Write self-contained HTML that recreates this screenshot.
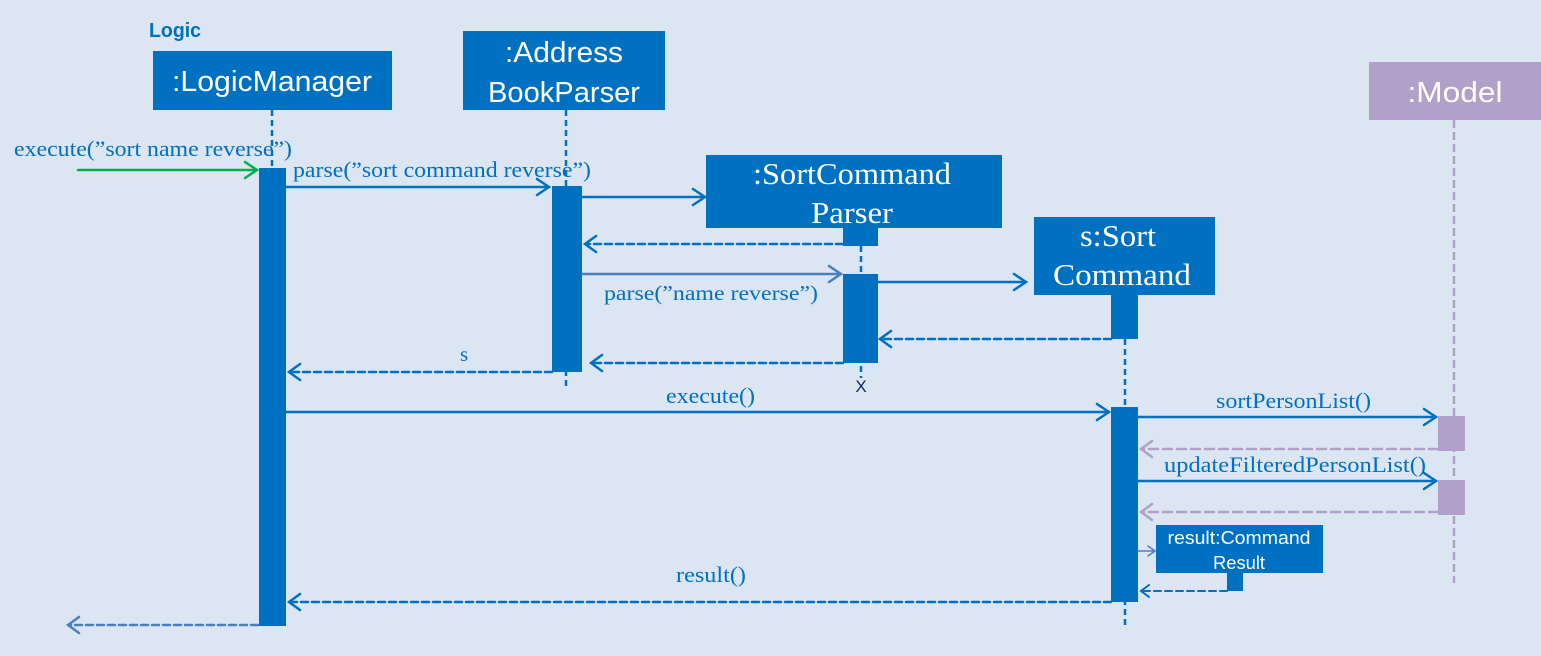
<!DOCTYPE html>
<html><head><meta charset="utf-8"><style>
html,body{margin:0;padding:0;background:#dce6f2;}
svg{display:block}
.s{font-family:"Liberation Sans",sans-serif;fill:#fff}
.r{font-family:"Liberation Serif",serif;fill:#0070c0}
</style></head><body>
<svg width="1541" height="656" viewBox="0 0 1541 656" xmlns="http://www.w3.org/2000/svg">
<rect width="1541" height="656" fill="#dce6f2"/>
<g fill="none" stroke-width="2.5">
<line x1="272" y1="110" x2="272" y2="168" stroke="#0070c0" stroke-dasharray="6,4"/>
<line x1="566" y1="110" x2="566" y2="390" stroke="#0070c0" stroke-dasharray="6,4"/>
<line x1="861" y1="246" x2="861" y2="378" stroke="#0070c0" stroke-dasharray="6,4"/>
<line x1="1125" y1="339" x2="1125" y2="625" stroke="#0070c0" stroke-dasharray="6,4"/>
<line x1="1454" y1="120" x2="1454" y2="583" stroke="#b1a0c7" stroke-dasharray="8,4"/>
</g>
<rect x="153" y="51" width="239" height="59" fill="#0070c0"/>
<text class="s" x="272" y="91" font-size="29" text-anchor="middle" textLength="200" lengthAdjust="spacingAndGlyphs">:LogicManager</text>
<rect x="463" y="31" width="202" height="79" fill="#0070c0"/>
<text class="s" x="564" y="62" font-size="29" text-anchor="middle" textLength="118" lengthAdjust="spacingAndGlyphs">:Address</text>
<text class="s" x="564" y="102" font-size="29" text-anchor="middle" textLength="152" lengthAdjust="spacingAndGlyphs">BookParser</text>
<rect x="706" y="155" width="296" height="73" fill="#0070c0"/>
<text class="s" style="font-family:'Liberation Serif',serif" x="852" y="184" font-size="31" text-anchor="middle" textLength="198" lengthAdjust="spacingAndGlyphs">:SortCommand</text>
<text class="s" style="font-family:'Liberation Serif',serif" x="852" y="223" font-size="31" text-anchor="middle" textLength="82" lengthAdjust="spacingAndGlyphs">Parser</text>
<rect x="843" y="226" width="35" height="20" fill="#0070c0"/>
<rect x="1034" y="217" width="181" height="78" fill="#0070c0"/>
<text class="s" style="font-family:'Liberation Serif',serif" x="1118" y="246" font-size="31" text-anchor="middle" textLength="76" lengthAdjust="spacingAndGlyphs">s:Sort</text>
<text class="s" style="font-family:'Liberation Serif',serif" x="1122" y="285" font-size="31" text-anchor="middle" textLength="138" lengthAdjust="spacingAndGlyphs">Command</text>
<rect x="1111" y="293" width="27" height="46" fill="#0070c0"/>
<rect x="1369" y="62" width="172" height="58" fill="#b1a0c7"/>
<text class="s" x="1455" y="102" font-size="29" text-anchor="middle" textLength="95" lengthAdjust="spacingAndGlyphs">:Model</text>
<text x="149" y="37" font-family="Liberation Sans,sans-serif" font-weight="bold" font-size="20" fill="#0070c0" textLength="52" lengthAdjust="spacingAndGlyphs">Logic</text>
<rect x="259" y="168" width="27" height="458" fill="#0070c0"/>
<rect x="552" y="186" width="30" height="186" fill="#0070c0"/>
<rect x="843" y="274" width="35" height="89" fill="#0070c0"/>
<rect x="1111" y="407" width="27" height="195" fill="#0070c0"/>
<rect x="1438" y="416" width="27" height="35" fill="#b1a0c7"/>
<rect x="1438" y="480" width="27" height="35" fill="#b1a0c7"/>
<rect x="1156" y="525" width="167" height="48" fill="#0070c0"/>
<rect x="1227" y="571" width="16" height="20" fill="#0070c0"/>
<text class="s" x="1239" y="544" font-size="18" text-anchor="middle" textLength="143" lengthAdjust="spacingAndGlyphs">result:Command</text>
<text class="s" x="1239" y="569" font-size="18" text-anchor="middle" textLength="52" lengthAdjust="spacingAndGlyphs">Result</text>
<text x="861" y="392" font-family="Liberation Sans,sans-serif" font-size="17" fill="#0d2a5c" text-anchor="middle">X</text>
<g fill="none" stroke-width="2.5" stroke-linecap="round">
<g stroke="#00b050"><line x1="78" y1="170" x2="256" y2="170"/><polyline points="245,162 257,170 245,178"/></g>
<g stroke="#0070c0">
<line x1="286" y1="187" x2="548" y2="187"/><polyline points="537,179 549,187 537,195"/>
<line x1="582" y1="197" x2="704" y2="197"/><polyline points="693,189 705,197 693,205"/>
<line x1="878" y1="282" x2="1025" y2="282"/><polyline points="1014,274 1026,282 1014,290"/>
<line x1="286" y1="412" x2="1108" y2="412"/><polyline points="1097,404 1109,412 1097,420"/>
<line x1="1138" y1="417" x2="1435" y2="417"/><polyline points="1424,409 1436,417 1424,425"/>
<line x1="1138" y1="481" x2="1435" y2="481"/><polyline points="1424,473 1436,481 1424,489"/>
<g stroke-dasharray="7,4">
<line x1="843" y1="244" x2="586" y2="244"/>
<line x1="1111" y1="339" x2="881" y2="339"/>
<line x1="843" y1="363" x2="592" y2="363"/>
<line x1="552" y1="372" x2="290" y2="372"/>
<line x1="1111" y1="602" x2="290" y2="602"/>
<line x1="1227" y1="591" x2="1142" y2="591" stroke-width="2"/>
</g>
<polyline points="596,236 585,244 596,252"/>
<polyline points="891,331 880,339 891,347"/>
<polyline points="602,355 591,363 602,371"/>
<polyline points="300,364 289,372 300,380"/>
<polyline points="300,594 289,602 300,610"/>
<polyline points="1149,585 1141,591 1149,597" stroke-width="2"/>
</g>
<g stroke="#4a7ebf">
<line x1="582" y1="274" x2="840" y2="274"/><polyline points="829,266 841,274 829,282"/>
<line x1="1138" y1="551" x2="1154" y2="551" stroke-width="1.5"/><polyline points="1148,546 1155,551 1148,556" stroke-width="1.5"/>
<line x1="258" y1="625" x2="70" y2="625" stroke-dasharray="7,4"/><polyline points="79,617 68,625 79,633"/>
</g>
<g stroke="#b1a0c7">
<line x1="1438" y1="449" x2="1142" y2="449" stroke-dasharray="9,5"/><polyline points="1152,441 1141,449 1152,457"/>
<line x1="1438" y1="512" x2="1142" y2="512" stroke-dasharray="9,5"/><polyline points="1152,504 1141,512 1152,520"/>
</g>
</g>
<text class="r" x="14" y="156" font-size="22" textLength="278" lengthAdjust="spacingAndGlyphs">execute(”sort name reverse”)</text>
<text class="r" x="293" y="177" font-size="22" textLength="298" lengthAdjust="spacingAndGlyphs">parse(”sort command reverse”)</text>
<text class="r" x="604" y="300" font-size="21" textLength="214" lengthAdjust="spacingAndGlyphs">parse(”name reverse”)</text>
<text class="r" x="460" y="361" font-size="21">s</text>
<text class="r" x="666" y="403" font-size="22" textLength="89" lengthAdjust="spacingAndGlyphs">execute()</text>
<text class="r" x="1216" y="408" font-size="22" textLength="155" lengthAdjust="spacingAndGlyphs">sortPersonList()</text>
<text class="r" x="1164" y="472" font-size="22" textLength="262" lengthAdjust="spacingAndGlyphs">updateFilteredPersonList()</text>
<text class="r" x="676" y="582" font-size="22" textLength="70" lengthAdjust="spacingAndGlyphs">result()</text>
</svg>
</body></html>
